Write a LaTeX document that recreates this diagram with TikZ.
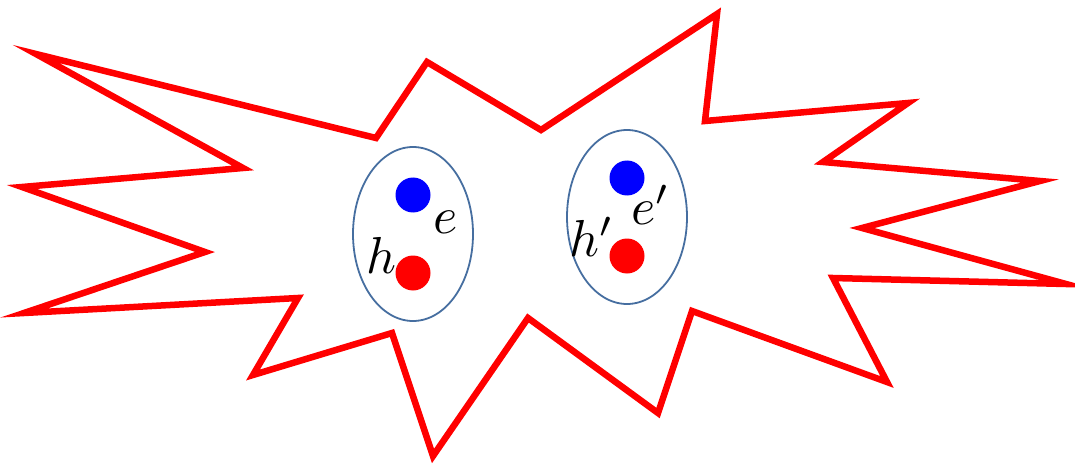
\documentclass[tikz,border=0pt]{standalone}
\begin{document}
\begin{tikzpicture}[x=1pt,y=-1pt,
  burst/.style={draw=red, line width=6.5pt, line join=miter, miter limit=30},
  pair/.style={draw={rgb,255:red,70;green,110;blue,160}, line width=1.8pt},
  edot/.style={circle, fill=blue, inner sep=0pt, minimum size=35pt},
  hdot/.style={circle, fill=red, inner sep=0pt, minimum size=35pt},
  lab/.style={inner sep=0pt, scale=5.2}]
\useasboundingbox (0,0) rectangle (1075,465);
\draw[burst] (36,54) -- (376,138) -- (427,62) -- (541,130) -- (717,14) -- (705,121)
  -- (908,103) -- (823,162) -- (1040,181) -- (862,228) -- (1066,284) -- (833,278)
  -- (887,382) -- (692,311) -- (658,413) -- (528,318) -- (433,456) -- (392,333)
  -- (253,375) -- (298,298) -- (24,313) -- (205,252) -- (22,187) -- (243,168) -- cycle;
\draw[pair] (413,234) ellipse [x radius=60, y radius=87];
\draw[pair] (627,217) ellipse [x radius=60, y radius=87];
\node[edot] (e1) at (413,195) {};
\node[hdot] (h1) at (413,273) {};
\node[edot] (e2) at (627,178) {};
\node[hdot] (h2) at (627,256) {};
\node[lab] (le) at (446,222) {$e$};
\node[lab] (lh) at (381,255) {$h$};
\node[lab] (le2) at (651,205) {$e'$};
\node[lab] (lh2) at (592,237) {$h'$};
\end{tikzpicture}
\end{document}
